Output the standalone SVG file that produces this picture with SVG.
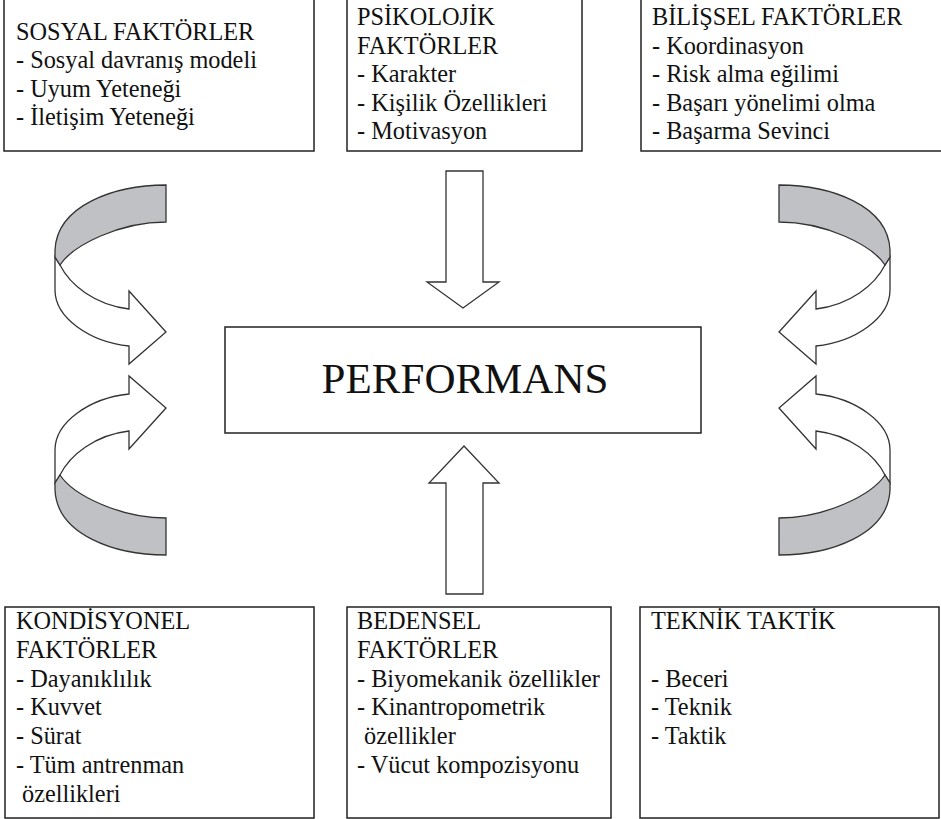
<svg xmlns="http://www.w3.org/2000/svg" xmlns:xlink="http://www.w3.org/1999/xlink" width="941" height="819" viewBox="0 0 941 819">
<style>
.box{fill:#fff;stroke:#222;stroke-width:1.5}
.t{font-family:"Liberation Serif","Times New Roman",serif;font-size:24.3px;fill:#111}
.big{font-family:"Liberation Serif","Times New Roman",serif;font-size:43px;fill:#111}
.arr{fill:#fff;stroke:#333;stroke-width:1.3;stroke-linejoin:miter}
.band{fill:#c0c1c5;stroke:#333;stroke-width:1.3}
</style>
<defs>
<g id="curl">
<path class="arr" d="M55,257 L55,290 C55,318 90,342 129,346 L129,364 L166,332 L129,291 L129,309 C95,305 70,285 60,265 Z"/>
<path class="band" d="M166,185 C115,185 57,205 55,250 L55,257 L60,265 C73,245 120,222 166,222 Z"/>
</g>
</defs>
<rect width="941" height="819" fill="#fff"/>

<g id="connectors">
<use xlink:href="#curl" href="#curl"/>
<use xlink:href="#curl" href="#curl" transform="matrix(1,0,0,-1,0,740)"/>
<use xlink:href="#curl" href="#curl" transform="matrix(-1,0,0,1,945,0)"/>
<use xlink:href="#curl" href="#curl" transform="matrix(-1,0,0,-1,945,740)"/>
<path class="arr" d="M446,171 L483,171 L483,282 L499,282 L463,308 L427,282 L446,282 Z"/>
<path class="arr" d="M446,594 L483,594 L483,483 L499,483 L464,446 L429,483 L446,483 Z"/>
</g>

<g id="sosyal">
<rect class="box" x="4" y="-2" width="310" height="153"/>
<text class="t" x="16" y="39.5">SOSYAL FAKTÖRLER</text>
<text class="t" x="16" y="68">- Sosyal davranış modeli</text>
<text class="t" x="16" y="96.5">- Uyum Yeteneği</text>
<text class="t" x="16" y="125">- İletişim Yeteneği</text>
</g>

<g id="psikolojik">
<rect class="box" x="347" y="-2" width="235" height="153"/>
<text class="t" x="357" y="25">PSİKOLOJİK</text>
<text class="t" x="357" y="53.5">FAKTÖRLER</text>
<text class="t" x="357" y="82">- Karakter</text>
<text class="t" x="357" y="110.5">- Kişilik Özellikleri</text>
<text class="t" x="357" y="139">- Motivasyon</text>
</g>

<g id="bilissel">
<rect class="box" x="641" y="-2" width="305" height="153"/>
<text class="t" x="652" y="25">BİLİŞSEL FAKTÖRLER</text>
<text class="t" x="652" y="53.5">- Koordinasyon</text>
<text class="t" x="652" y="82">- Risk alma eğilimi</text>
<text class="t" x="652" y="110.5">- Başarı yönelimi olma</text>
<text class="t" x="652" y="139">- Başarma Sevinci</text>
</g>

<g id="performans">
<rect class="box" x="225" y="327" width="476" height="106"/>
<text class="big" x="465" y="393" text-anchor="middle">PERFORMANS</text>
</g>

<g id="kondisyonel">
<rect class="box" x="5" y="607" width="309" height="211"/>
<text class="t" x="16" y="629">KONDİSYONEL</text>
<text class="t" x="16" y="657.8">FAKTÖRLER</text>
<text class="t" x="16" y="686.6">- Dayanıklılık</text>
<text class="t" x="16" y="715.4">- Kuvvet</text>
<text class="t" x="16" y="744.2">- Sürat</text>
<text class="t" x="16" y="773">- Tüm antrenman</text>
<text class="t" x="22" y="801.8">özellikleri</text>
</g>

<g id="bedensel">
<rect class="box" x="347" y="607" width="264" height="211"/>
<text class="t" x="357" y="629">BEDENSEL</text>
<text class="t" x="357" y="657.8">FAKTÖRLER</text>
<text class="t" x="357" y="686.6">- Biyomekanik özellikler</text>
<text class="t" x="357" y="715.4">- Kinantropometrik</text>
<text class="t" x="364" y="744.2">özellikler</text>
<text class="t" x="357" y="773">- Vücut kompozisyonu</text>
</g>

<g id="teknik">
<rect class="box" x="640" y="607" width="299" height="211"/>
<text class="t" x="651" y="629">TEKNİK TAKTİK</text>
<text class="t" x="651" y="686.6">- Beceri</text>
<text class="t" x="651" y="715.4">- Teknik</text>
<text class="t" x="651" y="744.2">- Taktik</text>
</g>
</svg>
